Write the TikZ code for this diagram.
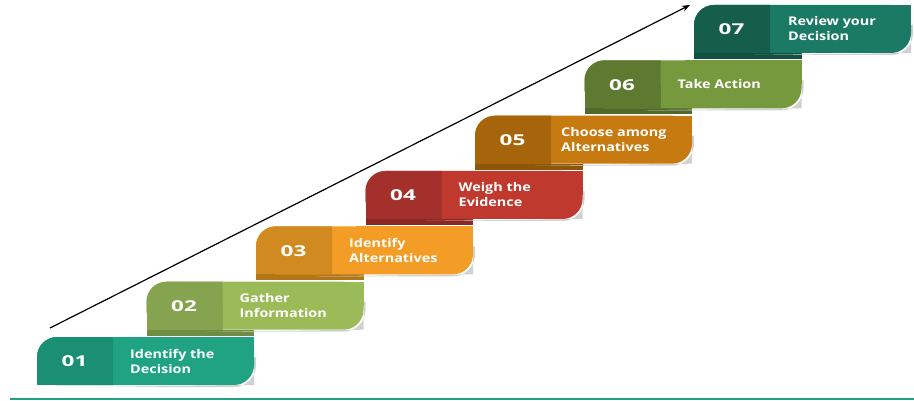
\documentclass[tikz,border=0pt]{standalone}
\usepackage{fontspec}
\setmainfont{Open Sans}
\newfontfamily\stepnumfont[FakeStretch=1.5]{Open Sans}
\newfontfamily\steplabfont[FakeStretch=1.2]{Open Sans}
\usetikzlibrary{arrows.meta}
\definecolor{dA}{HTML}{1A8F74}\definecolor{lA}{HTML}{1FA383}
\definecolor{dB}{HTML}{86A44F}\definecolor{lB}{HTML}{9BBB59}
\definecolor{dC}{HTML}{D08A1F}\definecolor{lC}{HTML}{F39C26}
\definecolor{dD}{HTML}{A3302A}\definecolor{lD}{HTML}{C0392F}
\definecolor{dE}{HTML}{A6650A}\definecolor{lE}{HTML}{C77A10}
\definecolor{dF}{HTML}{5E7A30}\definecolor{lF}{HTML}{77993D}
\definecolor{dG}{HTML}{155E4C}\definecolor{lG}{HTML}{1A7A63}
\tikzset{
  numtext/.style={text=white,font=\stepnumfont\bfseries\fontsize{15}{15}\selectfont,anchor=center,inner sep=0},
  labeltext/.style={text=white,font=\steplabfont\bfseries\fontsize{12}{15}\selectfont,align=left,anchor=west,inner sep=0},
}
\begin{document}
\begin{tikzpicture}[x=1pt,y=-1pt]
\useasboundingbox (0,0) rectangle (914,401);
\foreach \i/\x/\y/\dk/\lt/\num/\off/\txt in {
  1/37/337/dA/lA/01/93/{Identify the\\Decision},
  2/146.5/281.7/dB/lB/02/93/{Gather\\Information},
  3/256/226.3/dC/lC/03/93/{Identify\\Alternatives},
  4/365.5/171/dD/lD/04/93/{Weigh the\\Evidence},
  5/475/115.7/dE/lE/05/86/{Choose among\\Alternatives},
  6/584.5/60.3/dF/lF/06/93/{Take Action},
  7/694/5/dG/lG/07/94/{Review your\\Decision}} {
  \ifnum\i>1
    \fill[\dk!85!black] (\x,\y+48) rectangle (\x+107.5,\y+54);
  \fi
  \fill[black!18] (\x+60,\y+50) -- (\x+197,\y+50) to[out=0,in=-90] (\x+219,\y+28) -- (\x+219,\y+20) -- (\x+217,\y+20) -- (\x+217,\y+48) -- cycle;
  \fill[\lt,rounded corners=20] (\x,\y) rectangle (\x+217,\y+48);
  \fill[\lt] (\x+100,\y) rectangle (\x+217,\y+24);
  \begin{scope}
    \clip (\x,\y) rectangle (\x+76,\y+48);
    \fill[\dk,rounded corners=20] (\x,\y) rectangle (\x+140,\y+48);
    \fill[\dk] (\x,\y+24) rectangle (\x+76,\y+48);
  \end{scope}
  \node[numtext] (n\i) at (\x+37.5,\y+24.5) {\num};
  \node[labeltext] (t\i) at (\x+\off,\y+24) {\txt};
}
\coordinate (as) at (50,328);
\coordinate (ae) at (690,5);
\draw[line width=1.2pt,-{Stealth[length=8pt,width=6pt]}] (as) -- (ae);
\coordinate (ls) at (10,399);
\coordinate (le) at (914,399);
\draw[lA,line width=1.5pt] (ls) -- (le);
\end{tikzpicture}
\end{document}
